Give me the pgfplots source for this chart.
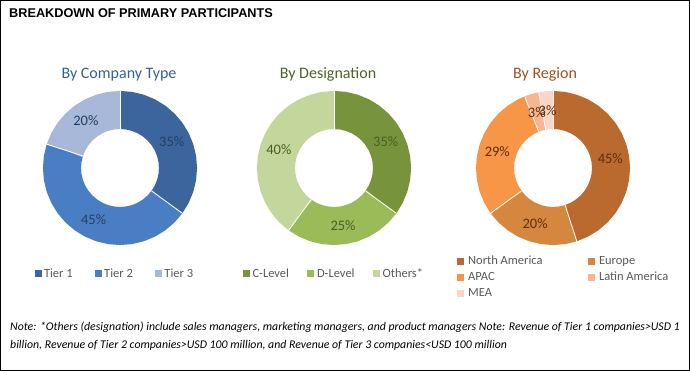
\documentclass[border=0pt]{standalone}
\usepackage{pgfplots}
\pgfplotsset{compat=1.18}
\usepgfplotslibrary{polar}
\usepackage{fontspec}
\setmainfont{Carlito}
\newfontfamily\titlefont{Liberation Sans}
\definecolor{tA}{HTML}{3C659E}
\definecolor{tB}{HTML}{4A7EC4}
\definecolor{tC}{HTML}{A8B8D8}
\definecolor{gA}{HTML}{77933C}
\definecolor{gB}{HTML}{9BBB59}
\definecolor{gC}{HTML}{C3D69B}
\definecolor{oA}{HTML}{BA6A2E}
\definecolor{oB}{HTML}{D6873F}
\definecolor{oC}{HTML}{F79646}
\definecolor{oD}{HTML}{F8B592}
\definecolor{oE}{HTML}{FBD5C6}
\definecolor{legtext}{HTML}{595959}
\definecolor{subB}{HTML}{376092}
\definecolor{subG}{HTML}{4F6228}
\definecolor{subO}{HTML}{A0501E}
\definecolor{lblB}{HTML}{243F60}
\definecolor{lblG}{HTML}{4A5E22}
\definecolor{lblO}{HTML}{5E2E0E}
\pgfplotsset{
  donut/.style={width=154pt,height=154pt,scale only axis,hide axis,
    xmin=0,xmax=360,ymin=0,ymax=77,clip=false,anchor=origin,
    x filter/.expression={90-3.6*x},
    legend cell align=left,
    legend image code/.code={\fill[##1,draw=none,line width=0pt] (0pt,-3.5pt) rectangle (7pt,3.5pt);},
    legend style={draw=none,fill=none,inner sep=0pt,outer sep=0pt,
      font=\fontsize{12.5}{14}\selectfont,text=legtext,
      nodes={inner sep=1pt}},
  },
  ring/.style={line width=38pt,mark=none},
  sep/.style={white,line width=0.8pt,mark=none,forget plot},
  lbl/.style={forget plot,draw=none,mark=none,nodes near coords,
    point meta=explicit symbolic,nodes near coords align={center},
    every node near coord/.append style={font=\fontsize{14.5}{16}\selectfont,text=#1}},
}
\begin{document}
\begin{tikzpicture}
\useasboundingbox (0,0) rectangle (690pt,371pt);
\fill[white] (0,0) rectangle (690pt,371pt);

% ---------- By Company Type ----------
\begin{polaraxis}[donut, at={(120pt,203pt)},
  legend columns=3,
  legend style={at={(-0.055,-0.187)},anchor=west,
    /tikz/every odd column/.append style={column sep=1.5pt},
    /tikz/every even column/.append style={column sep=21pt}}]
\addplot[ring,tA] coordinates {(0,58)(0.05,58)(2.5,58)(5,58)(7.5,58)(10,58)(12.5,58)(15,58)(17.5,58)(20,58)(22.5,58)(25,58)(27.5,58)(30,58)(32.5,58)(34.95,58)(35,58)};
\addlegendentry{Tier 1}
\addplot[ring,tB] coordinates {(35,58)(35.05,58)(37.5,58)(40,58)(42.5,58)(45,58)(47.5,58)(50,58)(52.5,58)(55,58)(57.5,58)(60,58)(62.5,58)(65,58)(67.5,58)(70,58)(72.5,58)(75,58)(77.5,58)(79.95,58)(80,58)};
\addlegendentry{Tier 2}
\addplot[ring,tC] coordinates {(80,58)(80.05,58)(82.5,58)(85,58)(87.5,58)(90,58)(92.5,58)(95,58)(97.5,58)(99.95,58)(100,58)};
\addlegendentry{Tier 3}
\addplot[sep] coordinates {(0,39)(0,77)};
\addplot[sep] coordinates {(35,39)(35,77)};
\addplot[sep] coordinates {(80,39)(80,77)};
\addplot[lbl=lblB] coordinates {(17.5,58)[35\%] (57.5,58)[45\%] (90,58)[20\%]};
\end{polaraxis}

% ---------- By Designation ----------
\begin{polaraxis}[donut, at={(334pt,203pt)},
  legend columns=3,
  legend style={at={(-0.094,-0.187)},anchor=west,
    /tikz/every odd column/.append style={column sep=2pt},
    /tikz/every even column/.append style={column sep=17pt}}]
\addplot[ring,gA] coordinates {(0,58)(0.05,58)(2.5,58)(5,58)(7.5,58)(10,58)(12.5,58)(15,58)(17.5,58)(20,58)(22.5,58)(25,58)(27.5,58)(30,58)(32.5,58)(34.95,58)(35,58)};
\addlegendentry{C-Level}
\addplot[ring,gB] coordinates {(35,58)(35.05,58)(37.5,58)(40,58)(42.5,58)(45,58)(47.5,58)(50,58)(52.5,58)(55,58)(57.5,58)(59.95,58)(60,58)};
\addlegendentry{D-Level}
\addplot[ring,gC] coordinates {(60,58)(60.05,58)(62.5,58)(65,58)(67.5,58)(70,58)(72.5,58)(75,58)(77.5,58)(80,58)(82.5,58)(85,58)(87.5,58)(90,58)(92.5,58)(95,58)(97.5,58)(99.95,58)(100,58)};
\addlegendentry{Others*}
\addplot[sep] coordinates {(0,39)(0,77)};
\addplot[sep] coordinates {(35,39)(35,77)};
\addplot[sep] coordinates {(60,39)(60,77)};
\addplot[lbl=lblG] coordinates {(17.5,58)[35\%] (47.5,58)[25\%] (80,58)[40\%]};
\end{polaraxis}

% ---------- By Region ----------
\begin{polaraxis}[donut, at={(553pt,203pt)},
  legend columns=2,
  legend style={at={(-0.126,-0.065)},anchor=north west,
    /tikz/every even column/.append style={column sep=44pt},
    /tikz/every odd column/.append style={column sep=3.5pt},
    row sep=4pt}]
\addplot[ring,oA] coordinates {(0,58)(0.05,58)(2.5,58)(5,58)(7.5,58)(10,58)(12.5,58)(15,58)(17.5,58)(20,58)(22.5,58)(25,58)(27.5,58)(30,58)(32.5,58)(35,58)(37.5,58)(40,58)(42.5,58)(44.95,58)(45,58)};
\addlegendentry{North America}
\addplot[ring,oB] coordinates {(45,58)(45.05,58)(47.5,58)(50,58)(52.5,58)(55,58)(57.5,58)(60,58)(62.5,58)(64.95,58)(65,58)};
\addlegendentry{Europe}
\addplot[ring,oC] coordinates {(65,58)(65.05,58)(67.5,58)(70,58)(72.5,58)(75,58)(77.5,58)(80,58)(82.5,58)(85,58)(87.5,58)(90,58)(92.5,58)(93.95,58)(94,58)};
\addlegendentry{APAC}
\addplot[ring,oD] coordinates {(94,58)(94.05,58)(95,58)(96,58)(96.95,58)(97,58)};
\addlegendentry{Latin America}
\addplot[ring,oE] coordinates {(97,58)(97.05,58)(98,58)(99,58)(99.95,58)(100,58)};
\addlegendentry{MEA}
\addplot[sep] coordinates {(0,39)(0,77)};
\addplot[sep] coordinates {(45,39)(45,77)};
\addplot[sep] coordinates {(65,39)(65,77)};
\addplot[sep] coordinates {(94,39)(94,77)};
\addplot[sep] coordinates {(97,39)(97,77)};
\addplot[lbl=lblO] coordinates {(22.5,58)[45\%] (55,58)[20\%] (79.5,58)[29\%] (95.5,58)[3\%] (98.5,58)[3\%]};
\end{polaraxis}

% ---------- texts ----------
\node[anchor=west,inner sep=0pt,font=\titlefont\bfseries\fontsize{12.7}{14}\selectfont] at (9pt,357.5pt) {BREAKDOWN OF PRIMARY PARTICIPANTS};
\node[anchor=base,inner sep=0pt,text=subB,font=\fontsize{16}{18}\selectfont] at (119pt,292pt) {By Company Type};
\node[anchor=base,inner sep=0pt,text=subG,font=\fontsize{16}{18}\selectfont] at (328pt,292pt) {By Designation};
\node[anchor=base,inner sep=0pt,text=subO,font=\fontsize{16}{18}\selectfont] at (545pt,292pt) {By Region};
\node[anchor=base west,inner sep=0pt,font=\itshape\fontsize{11.8}{13}\selectfont] at (10pt,40pt) {Note: *Others (designation) include sales managers, marketing managers, and product managers Note: Revenue of Tier 1 companies>USD 1};
\node[anchor=base west,inner sep=0pt,font=\itshape\fontsize{11.8}{13}\selectfont] at (10pt,22pt) {billion, Revenue of Tier 2 companies>USD 100 million, and Revenue of Tier 3 companies<USD 100 million};
\draw[black,line width=1pt] (0.5pt,0.5pt) rectangle (689.5pt,370.5pt);
\end{tikzpicture}
\end{document}
